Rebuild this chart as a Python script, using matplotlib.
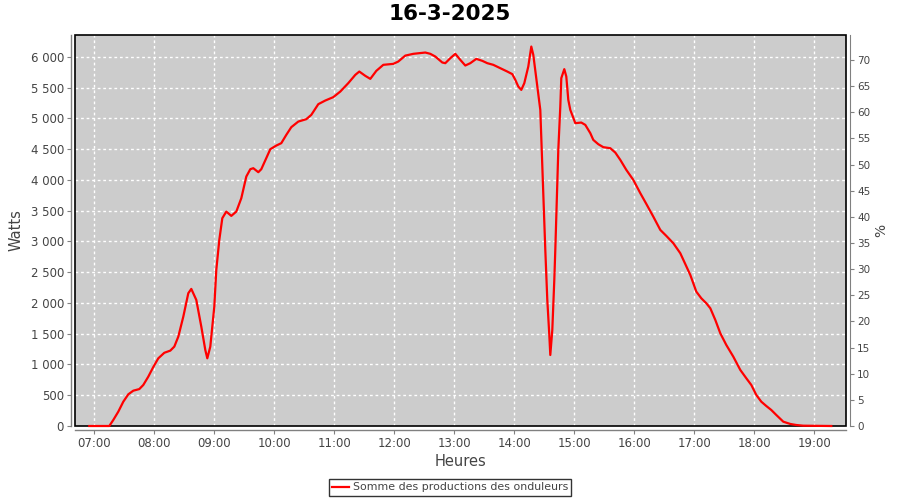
import matplotlib
matplotlib.use("Agg")
import matplotlib.pyplot as plt
import matplotlib.dates as mdates
from matplotlib.ticker import FuncFormatter, MultipleLocator
from matplotlib.patches import Rectangle
import pandas as pd

title = "16-3-2025"
series_name = "Somme des productions des onduleurs"

times = [
    "06:55", "07:15", "07:19", "07:24", "07:29", "07:34", "07:39", "07:45", "07:49", "07:54",
    "07:59", "08:04", "08:10", "08:16", "08:20", "08:24", "08:29", "08:34", "08:37", "08:42",
    "08:47", "08:51", "08:53", "08:56", "09:00", "09:02", "09:05", "09:08", "09:12", "09:17",
    "09:22", "09:27", "09:32", "09:36", "09:39", "09:44", "09:47", "09:52", "09:56", "10:02",
    "10:07", "10:12", "10:17", "10:24", "10:32", "10:37", "10:44", "10:51", "10:59", "11:06",
    "11:14", "11:21", "11:25", "11:31", "11:36", "11:42", "11:49", "11:59", "12:04", "12:11",
    "12:19", "12:31", "12:36", "12:41", "12:48", "12:51", "12:56", "13:01", "13:06", "13:11",
    "13:16", "13:22", "13:28", "13:33", "13:39", "13:46", "13:53", "13:58", "14:01", "14:04",
    "14:07", "14:10", "14:14", "14:17", "14:19", "14:26", "14:31", "14:33", "14:35", "14:36",
    "14:38", "14:40", "14:41", "14:44", "14:46", "14:47", "14:50", "14:52", "14:54", "14:56",
    "15:01", "15:07", "15:11", "15:16", "15:19", "15:24", "15:29", "15:36", "15:41", "15:46",
    "15:52", "15:59", "16:06", "16:12", "16:19", "16:26", "16:32", "16:39", "16:46", "16:56",
    "17:02", "17:07", "17:12", "17:16", "17:21", "17:26", "17:32", "17:39", "17:46", "17:52",
    "17:57", "18:02", "18:07", "18:12", "18:17", "18:22", "18:29", "18:36", "18:42", "18:49",
    "19:17",
]
watts = [
    0, 0, 98, 233, 395, 515, 574, 600, 667, 802,
    959, 1100, 1190, 1225, 1290, 1452, 1777, 2158, 2228, 2049,
    1615, 1236, 1100, 1290, 1940, 2537, 3024, 3377, 3485, 3415,
    3485, 3702, 4054, 4174, 4190, 4125, 4174, 4353, 4499, 4558,
    4597, 4732, 4857, 4948, 4987, 5057, 5231, 5290, 5345, 5436,
    5573, 5707, 5761, 5691, 5642, 5772, 5870, 5886, 5924, 6020,
    6049, 6070, 6049, 6005, 5908, 5897, 5978, 6049, 5951, 5859,
    5897, 5967, 5935, 5897, 5870, 5816, 5761, 5719, 5626, 5517,
    5463, 5572, 5843, 6167, 6032, 5138, 2862, 2049, 1480, 1154,
    1560, 2374, 2862, 4488, 5192, 5654, 5800, 5680, 5300, 5138,
    4922, 4932, 4894, 4760, 4650, 4580, 4532, 4515, 4444, 4325,
    4163, 4000, 3784, 3610, 3403, 3187, 3090, 2971, 2808, 2455,
    2184, 2076, 1995, 1914, 1724, 1507, 1317, 1127, 911, 776,
    667, 504, 395, 325, 260, 179, 70, 33, 16, 5,
    0,
]

day = "2025-03-16 "
x = pd.to_datetime([day + t for t in times])

fig = plt.figure(figsize=(9, 5), dpi=100)
L, R, T, B = 75, 846, 35, 426
ax = fig.add_axes([L / 900, 1 - B / 500, (R - L) / 900, (B - T) / 500])
ax.set_facecolor("#cccccc")

line, = ax.plot(x, watts, color="#ff0000", lw=1.6, zorder=7, clip_on=False)

ymax = 6355
ax.set_ylim(0, ymax)
ax.set_xlim(pd.Timestamp(day + "06:40:42"), pd.Timestamp(day + "19:31:42"))

ax.yaxis.set_major_locator(MultipleLocator(500))
ax.yaxis.set_major_formatter(FuncFormatter(lambda v, p: f"{int(v):,}".replace(",", " ")))
ax.xaxis.set_major_locator(mdates.HourLocator())
ax.xaxis.set_major_formatter(mdates.DateFormatter("%H:%M"))

ax.grid(True, color="white", linestyle=(0, (2, 2)), lw=1)
ax.set_axisbelow(True)

gray = "#808080"
txt = "#444444"
for s in ["top", "right"]:
    ax.spines[s].set_visible(False)
for s in ["left", "bottom"]:
    ax.spines[s].set_color(gray)
    ax.spines[s].set_position(("outward", 3))
    ax.spines[s].set_linewidth(1)

ax.add_patch(Rectangle((0, 0), 1, 1, transform=ax.transAxes, fill=False,
                       edgecolor="black", lw=1.2, zorder=5, clip_on=False))

ax.tick_params(axis="both", direction="out", length=3, width=0.8, color=gray,
               labelcolor=txt, labelsize=8.5, pad=2)

ax2 = ax.twinx()
ax2.set_ylim(0, ymax / 85.0)
ax2.yaxis.set_major_locator(MultipleLocator(5))
for s in ["top", "left", "bottom"]:
    ax2.spines[s].set_visible(False)
ax2.spines["right"].set_color(gray)
ax2.spines["right"].set_position(("outward", 3))
ax2.tick_params(axis="y", direction="out", length=3, width=0.8, color=gray,
                labelcolor=txt, labelsize=7.5, pad=2)
ax2.set_ylabel("%", fontsize=10, color=txt, labelpad=3)

ax.set_ylabel("Watts", fontsize=10.5, color=txt, labelpad=5)
ax.set_xlabel("Heures", fontsize=10.5, color=txt, labelpad=3)

fig.text(0.5, 1 - 14 / 500, title, ha="center", va="center",
         fontsize=15.5, fontweight="bold", color="black")

leg = fig.legend([line], [series_name], loc="center",
                 bbox_to_anchor=(0.5, 1 - 487.5 / 500), fontsize=7.9,
                 frameon=True, fancybox=False, edgecolor="black",
                 handlelength=1.6, handletextpad=0.3, borderpad=0.3,
                 labelcolor=txt)
leg.get_frame().set_linewidth(1)

fig.savefig("out.png", dpi=100)
